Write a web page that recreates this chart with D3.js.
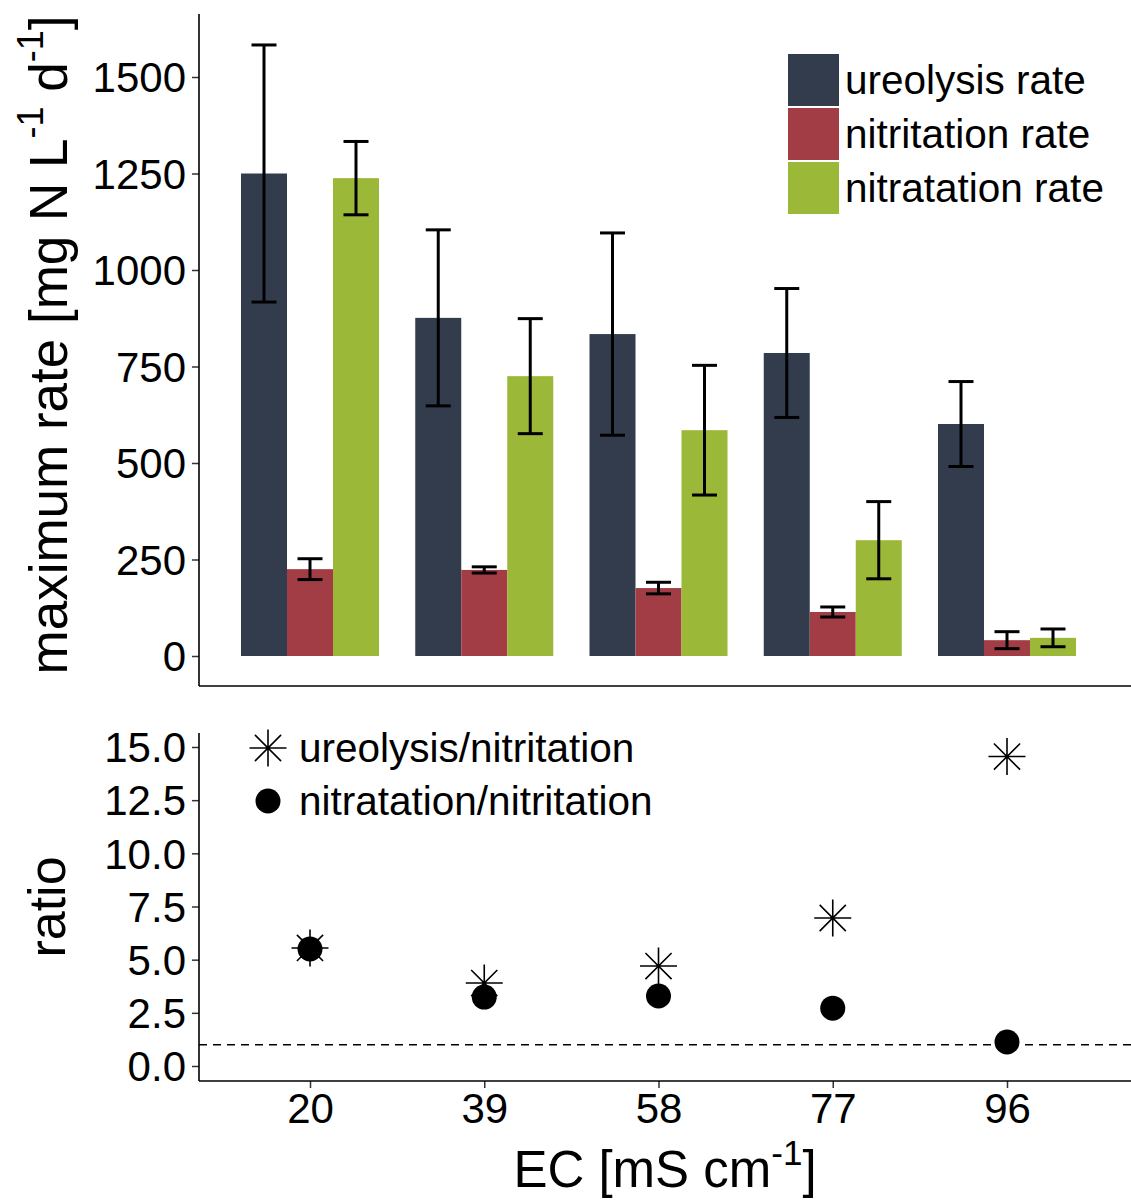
<!DOCTYPE html>
<html>
<head>
<meta charset="utf-8">
<script src="https://cdn.jsdelivr.net/npm/d3@7"></script>
<style>
  html, body { margin: 0; padding: 0; background: #fff; }
  svg { display: block; font-family: "Liberation Sans", Arial, sans-serif; }
</style>
</head>
<body>
<svg id="chart" width="1131" height="1200"></svg>
<script>
// EC levels (mS cm-1)
const categories = ["20", "39", "58", "77", "96"];

// maximum rates (mg N L-1 d-1) with error (±)
const seriesNames = ["ureolysis rate", "nitritation rate", "nitratation rate"];
const ureolysis      = [1250, 876, 834, 785, 601];
const ureolysisErr   = [333, 228, 262, 167, 110];
const nitritation    = [225, 223, 176, 114, 41];
const nitritationErr = [27, 8, 15, 13, 22];
const nitratation    = [1238, 725, 585, 300, 47];
const nitratationErr = [95, 149, 168, 100, 23];

// ratios
const ratioNames = ["ureolysis/nitritation", "nitratation/nitritation"];
const ureoNitri  = [5.55, 3.9, 4.7, 6.96, 14.55];
const nitraNitri = [5.5, 3.24, 3.29, 2.72, 1.13];

const rateTicks  = [0, 250, 500, 750, 1000, 1250, 1500];
const ratioTicks = [0, 2.5, 5, 7.5, 10, 12.5, 15];

const colors = ["#333c4d", "#a23d46", "#9cb838"];

const svg = d3.select("#chart");
const left = 199, right = 1131;
const tickFont = 42;

// shared x scale
const x = d3.scalePoint().domain(categories).range([310, 1007]);
const xs = d3.scaleBand().domain(seriesNames).range([-69, 69]).padding(0);

// ---------- top panel: rates ----------
const yTop = d3.scaleLinear().domain([0, 1500]).range([656, 77]);
const topY0 = 14, topY1 = 686;

const rows = [];
const vals = [ureolysis, nitritation, nitratation];
const errs = [ureolysisErr, nitritationErr, nitratationErr];
categories.forEach((c, i) => {
  seriesNames.forEach((s, j) => {
    rows.push({ cat: c, series: s, idx: j, value: vals[j][i], err: errs[j][i] });
  });
});

const gTop = svg.append("g");
gTop.selectAll("rect.bar").data(rows).enter().append("rect")
  .attr("class", "bar")
  .attr("x", d => x(d.cat) + xs(d.series))
  .attr("width", xs.bandwidth())
  .attr("y", d => yTop(d.value))
  .attr("height", d => yTop(0) - yTop(d.value))
  .attr("fill", d => colors[d.idx]);

const eb = gTop.selectAll("g.err").data(rows).enter().append("g")
  .attr("class", "err")
  .attr("stroke", "#000").attr("stroke-width", 3);
const cx = d => x(d.cat) + xs(d.series) + xs.bandwidth() / 2;
eb.append("line")
  .attr("x1", cx).attr("x2", cx)
  .attr("y1", d => yTop(d.value + d.err)).attr("y2", d => yTop(d.value - d.err));
eb.append("line")
  .attr("x1", d => cx(d) - 12.5).attr("x2", d => cx(d) + 12.5)
  .attr("y1", d => yTop(d.value + d.err)).attr("y2", d => yTop(d.value + d.err));
eb.append("line")
  .attr("x1", d => cx(d) - 12.5).attr("x2", d => cx(d) + 12.5)
  .attr("y1", d => yTop(d.value - d.err)).attr("y2", d => yTop(d.value - d.err));

// axes
const axTop = gTop.append("g").attr("transform", `translate(${left},0)`)
  .call(d3.axisLeft(yTop).tickValues(rateTicks).tickSize(7).tickPadding(6).tickFormat(d3.format("d")));
axTop.select(".domain").remove();
axTop.selectAll(".tick line").attr("stroke", "#333").attr("stroke-width", 1.5);
axTop.selectAll(".tick text").attr("font-size", tickFont).attr("fill", "#000")
  .attr("font-family", "Liberation Sans, Arial, sans-serif").attr("dy", "0.35em");

gTop.append("line").attr("x1", left).attr("x2", left).attr("y1", topY0).attr("y2", topY1)
  .attr("stroke", "#000").attr("stroke-width", 1.6);
gTop.append("line").attr("x1", left).attr("x2", right).attr("y1", topY1).attr("y2", topY1)
  .attr("stroke", "#000").attr("stroke-width", 1.6);

// y title with superscripts
const yt = gTop.append("text")
  .attr("transform", "translate(67,345) rotate(-90)")
  .attr("text-anchor", "middle")
  .attr("font-size", 53).attr("fill", "#000");
yt.append("tspan").text("maximum rate [mg N L");
yt.append("tspan").attr("font-size", 36).attr("dy", -24).text("-1");
yt.append("tspan").attr("dy", 24).text(" d");
yt.append("tspan").attr("font-size", 36).attr("dy", -24).text("-1");
yt.append("tspan").attr("dy", 24).text("]");

// legend
const lg = gTop.append("g").attr("transform", "translate(788,54)");
seriesNames.forEach((s, j) => {
  lg.append("rect").attr("x", 0).attr("y", j * 54).attr("width", 51).attr("height", 52)
    .attr("fill", colors[j]);
  lg.append("text").attr("x", 57).attr("y", j * 54 + 40)
    .attr("font-size", 40.5).attr("fill", "#000").text(s);
});

// ---------- bottom panel: ratios ----------
const yBot = d3.scaleLinear().domain([0, 15]).range([1066, 747]);
const botY0 = 733, botY1 = 1081;
const gBot = svg.append("g");

// reference line at ratio 1
gBot.append("line").attr("x1", left).attr("x2", right)
  .attr("y1", yBot(1)).attr("y2", yBot(1))
  .attr("stroke", "#000").attr("stroke-width", 1.5).attr("stroke-dasharray", "8,6");

// asterisk marker path
function asterisk(r) {
  const d = r * Math.SQRT1_2;
  return `M${-r},0L${r},0M0,${-r}L0,${r}M${-d},${-d}L${d},${d}M${-d},${d}L${d},${-d}`;
}

gBot.selectAll("path.ast").data(categories).enter().append("path")
  .attr("class", "ast")
  .attr("transform", (c, i) => `translate(${x(c)},${yBot(ureoNitri[i])})`)
  .attr("d", asterisk(18.5))
  .attr("fill", "none").attr("stroke", "#000").attr("stroke-width", 1.6);

gBot.selectAll("circle.pt").data(categories).enter().append("circle")
  .attr("class", "pt")
  .attr("cx", c => x(c))
  .attr("cy", (c, i) => yBot(nitraNitri[i]))
  .attr("r", 12.5).attr("fill", "#000");

const axBot = gBot.append("g").attr("transform", `translate(${left},0)`)
  .call(d3.axisLeft(yBot).tickValues(ratioTicks).tickSize(7).tickPadding(6).tickFormat(d3.format(".1f")));
axBot.select(".domain").remove();
axBot.selectAll(".tick line").attr("stroke", "#333").attr("stroke-width", 1.5);
axBot.selectAll(".tick text").attr("font-size", tickFont).attr("fill", "#000")
  .attr("font-family", "Liberation Sans, Arial, sans-serif").attr("dy", "0.35em");

const axX = gBot.append("g").attr("transform", `translate(0,${botY1})`)
  .call(d3.axisBottom(x).tickSize(7).tickPadding(5));
axX.select(".domain").remove();
axX.selectAll(".tick line").attr("stroke", "#333").attr("stroke-width", 1.5);
axX.selectAll(".tick text").attr("font-size", tickFont).attr("fill", "#000")
  .attr("font-family", "Liberation Sans, Arial, sans-serif");

gBot.append("line").attr("x1", left).attr("x2", left).attr("y1", botY0).attr("y2", botY1)
  .attr("stroke", "#000").attr("stroke-width", 1.6);
gBot.append("line").attr("x1", left).attr("x2", right).attr("y1", botY1).attr("y2", botY1)
  .attr("stroke", "#000").attr("stroke-width", 1.6);

// y title
gBot.append("text").attr("transform", "translate(65,907) rotate(-90)")
  .attr("text-anchor", "middle").attr("font-size", 52).attr("fill", "#000").text("ratio");

// x title with superscript
const xt = gBot.append("text").attr("x", 665).attr("y", 1187)
  .attr("text-anchor", "middle").attr("font-size", 51).attr("fill", "#000");
xt.append("tspan").text("EC [mS cm");
xt.append("tspan").attr("font-size", 35).attr("dy", -22).text("-1");
xt.append("tspan").attr("dy", 22).text("]");

// ratio legend
const lg2 = gBot.append("g");
lg2.append("path").attr("transform", "translate(268,748)").attr("d", asterisk(18.5))
  .attr("fill", "none").attr("stroke", "#000").attr("stroke-width", 1.6);
lg2.append("text").attr("x", 299).attr("y", 762).attr("font-size", 40.5).text(ratioNames[0]);
lg2.append("circle").attr("cx", 268).attr("cy", 801).attr("r", 12.5).attr("fill", "#000");
lg2.append("text").attr("x", 299).attr("y", 815).attr("font-size", 40.5).text(ratioNames[1]);
</script>
</body>
</html>
